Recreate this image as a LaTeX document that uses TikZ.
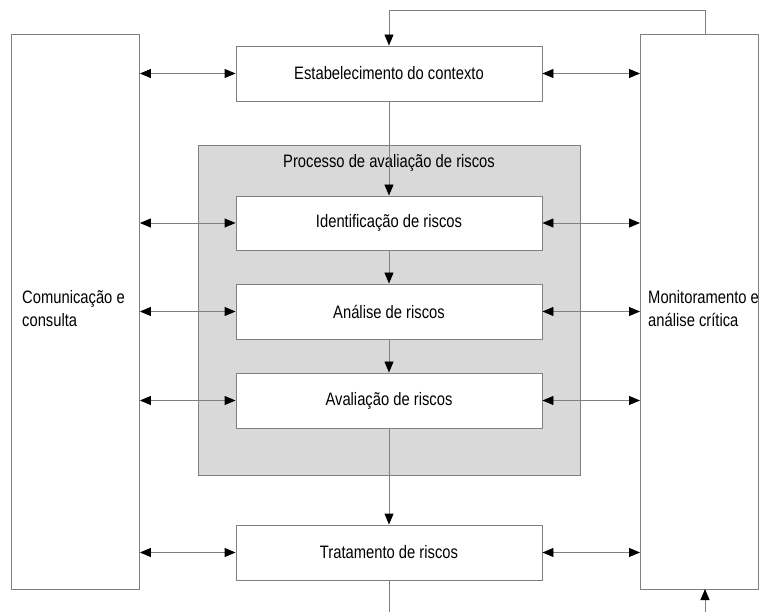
\documentclass[tikz,border=0pt]{standalone}
\usepackage{fontspec}
\setmainfont{Liberation Sans}[FakeStretch=0.82]
\usetikzlibrary{arrows.meta}
\definecolor{edge}{HTML}{808080}
\definecolor{procfill}{HTML}{D9D9D9}
\tikzset{
  box/.style={draw=edge, fill=white, line width=0.9pt, inner sep=0pt},
  lbl/.style={font=\fontsize{18}{23}\selectfont, inner sep=0pt},
  conn/.style={draw=edge, line width=0.9pt},
  tip/.style={-{Triangle[length=11pt,width=9pt,color=black]}},
  both/.style={{Triangle[length=11pt,width=9pt,color=black]}-{Triangle[length=11pt,width=9pt,color=black]}},
}
\begin{document}
\begin{tikzpicture}[x=1pt,y=-1pt]
\useasboundingbox (0,0) rectangle (761,612);
% side boxes
\node[box, minimum width=128pt, minimum height=555pt, anchor=north west] (com) at (11,34) {};
\node[box, minimum width=118pt, minimum height=555pt, anchor=north west] (mon) at (640,34) {};
\node[lbl, anchor=west, align=left] (comt) at (22,309) {Comunicação e\\consulta};
\node[lbl, anchor=west, align=left] (mont) at (648,309) {Monitoramento e\\análise crítica};
% process box
\node[draw=edge, fill=procfill, line width=0.9pt, minimum width=382pt, minimum height=330pt, anchor=north west] (proc) at (198,145) {};
\node[lbl] (proct) at (389,163) {Processo de avaliação de riscos};
% step boxes
\node[box, lbl, minimum width=306pt, minimum height=55pt] (ctx) at (389,73.5) {Estabelecimento do contexto};
\node[box, lbl, minimum width=306pt, minimum height=54pt] (ident) at (389,223) {Identificação de riscos};
\node[box, lbl, minimum width=306pt, minimum height=55pt] (anal) at (389,311.5) {Análise de riscos};
\node[box, lbl, minimum width=306pt, minimum height=55pt] (aval) at (389,400.5) {Avaliação de riscos};
\node[box, lbl, minimum width=306pt, minimum height=55pt] (trat) at (389,552.5) {Tratamento de riscos};
% vertical flow
\draw[conn, tip] (ctx.south) -- (ident.north);
\draw[conn, tip] (ident.south) -- (anal.north);
\draw[conn, tip] (anal.south) -- (aval.north);
\draw[conn, tip] (aval.south) -- (trat.north);
\coordinate (botA) at (389,612);
\draw[conn] (trat.south) -- (botA);
% feedback
\coordinate (fb1) at (705,34);
\coordinate (fb2) at (705,10);
\coordinate (fb3) at (389,10);
\draw[conn, tip] (fb1) -- (fb2) -- (fb3) -- (ctx.north);
\coordinate (botB) at (705,612);
\draw[conn, tip] (botB) -- (705,589);
% horizontal double arrows
\foreach \n in {ctx,ident,anal,aval,trat}{
  \draw[conn, both] (com.east |- \n.west) -- (\n.west);
  \draw[conn, both] (\n.east) -- (mon.west |- \n.east);
}
\end{tikzpicture}
\end{document}
